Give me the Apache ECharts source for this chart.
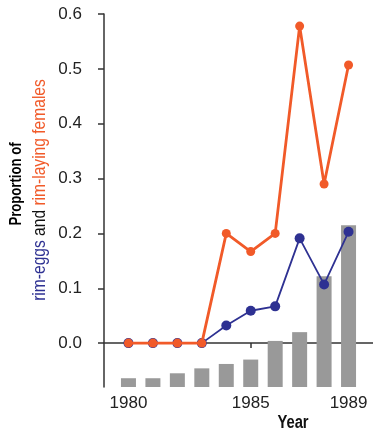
<!DOCTYPE html>
<html><head><meta charset="utf-8">
<script src="https://cdn.jsdelivr.net/npm/echarts@6/dist/echarts.min.js"></script>
<style>html,body{margin:0;padding:0;background:#fff}#c{width:373px;height:432px}</style>
</head><body><div id="c"></div>
<script>
const years = [1980,1981,1982,1983,1984,1985,1986,1987,1988,1989];
const rimLayingFemales = [0,0,0,0,0.200,0.167,0.200,0.578,0.290,0.507];
const rimEggs = [0,0,0,0,0.032,0.059,0.067,0.191,0.107,0.203];
const barValues = [1.6,1.6,2.5,3.4,4.2,5.0,8.4,10.0,20.2,29.5];
const yTicks = [0,0.1,0.2,0.3,0.4,0.5,0.6];
const xTicks = [1980,1985,1989];

const FONT = '"Liberation Sans",Arial,sans-serif';
const ORANGE = '#f15a29', BLUE = '#2e3192', GRAY = '#999999';
const chart = echarts.init(document.getElementById('c'));
chart.setOption({
  animation:false,
  grid:{left:104,top:14,width:270,height:373},
  xAxis:{type:'value',min:1979,max:1990,
    axisLine:{lineStyle:{color:'#333',width:1.5}},
    axisTick:{show:true,customValues:xTicks,length:5,lineStyle:{color:'#333',width:1.5}},
    axisLabel:{customValues:xTicks,margin:8,fontFamily:FONT,fontSize:17,color:'#222',
      formatter:v=>String(v)},
    splitLine:{show:false}},
  yAxis:[{type:'value',min:-0.08,max:0.6,
    axisLine:{show:true,lineStyle:{color:'#333',width:1.5}},
    axisTick:{show:true,customValues:yTicks,length:6,lineStyle:{color:'#333',width:1.5}},
    axisLabel:{customValues:yTicks,margin:22,fontFamily:FONT,fontSize:17,color:'#222',
      formatter:v=>v.toFixed(1)},
    splitLine:{show:false}},
   {type:'value',min:0,max:68,show:false,splitLine:{show:false}}],
  graphic:[
    {type:'text',x:17,y:184,rotation:Math.PI/2,scaleX:0.82,
     style:{text:'Proportion of',font:'bold 16px '+FONT,fill:'#000',align:'center',verticalAlign:'middle'}},
    {type:'text',x:40,y:190,rotation:Math.PI/2,scaleX:0.82,
     style:{text:'{b|rim-eggs}{k| and }{o|rim-laying females}',align:'center',verticalAlign:'middle',
       rich:{b:{fill:BLUE,font:'19px '+FONT},k:{fill:'#111',font:'19px '+FONT},o:{fill:ORANGE,font:'19px '+FONT}}}},
    {type:'text',x:293,y:423,scaleX:0.82,
     style:{text:'Year',font:'bold 18px '+FONT,fill:'#111',align:'center',verticalAlign:'middle'}}
  ],
  series:[
    {type:'bar',yAxisIndex:1,barWidth:15,itemStyle:{color:GRAY},
     data:years.map((y,i)=>[y,barValues[i]]),z:1},
    {type:'line',data:years.map((y,i)=>[y,rimEggs[i]]),symbol:'circle',symbolSize:10,
     lineStyle:{color:BLUE,width:1.8},itemStyle:{color:BLUE},z:2},
    {type:'line',data:years.map((y,i)=>[y,rimLayingFemales[i]]),symbol:'circle',symbolSize:9,
     lineStyle:{color:ORANGE,width:2.8},itemStyle:{color:ORANGE},z:3}
  ]
});
</script></body></html>
